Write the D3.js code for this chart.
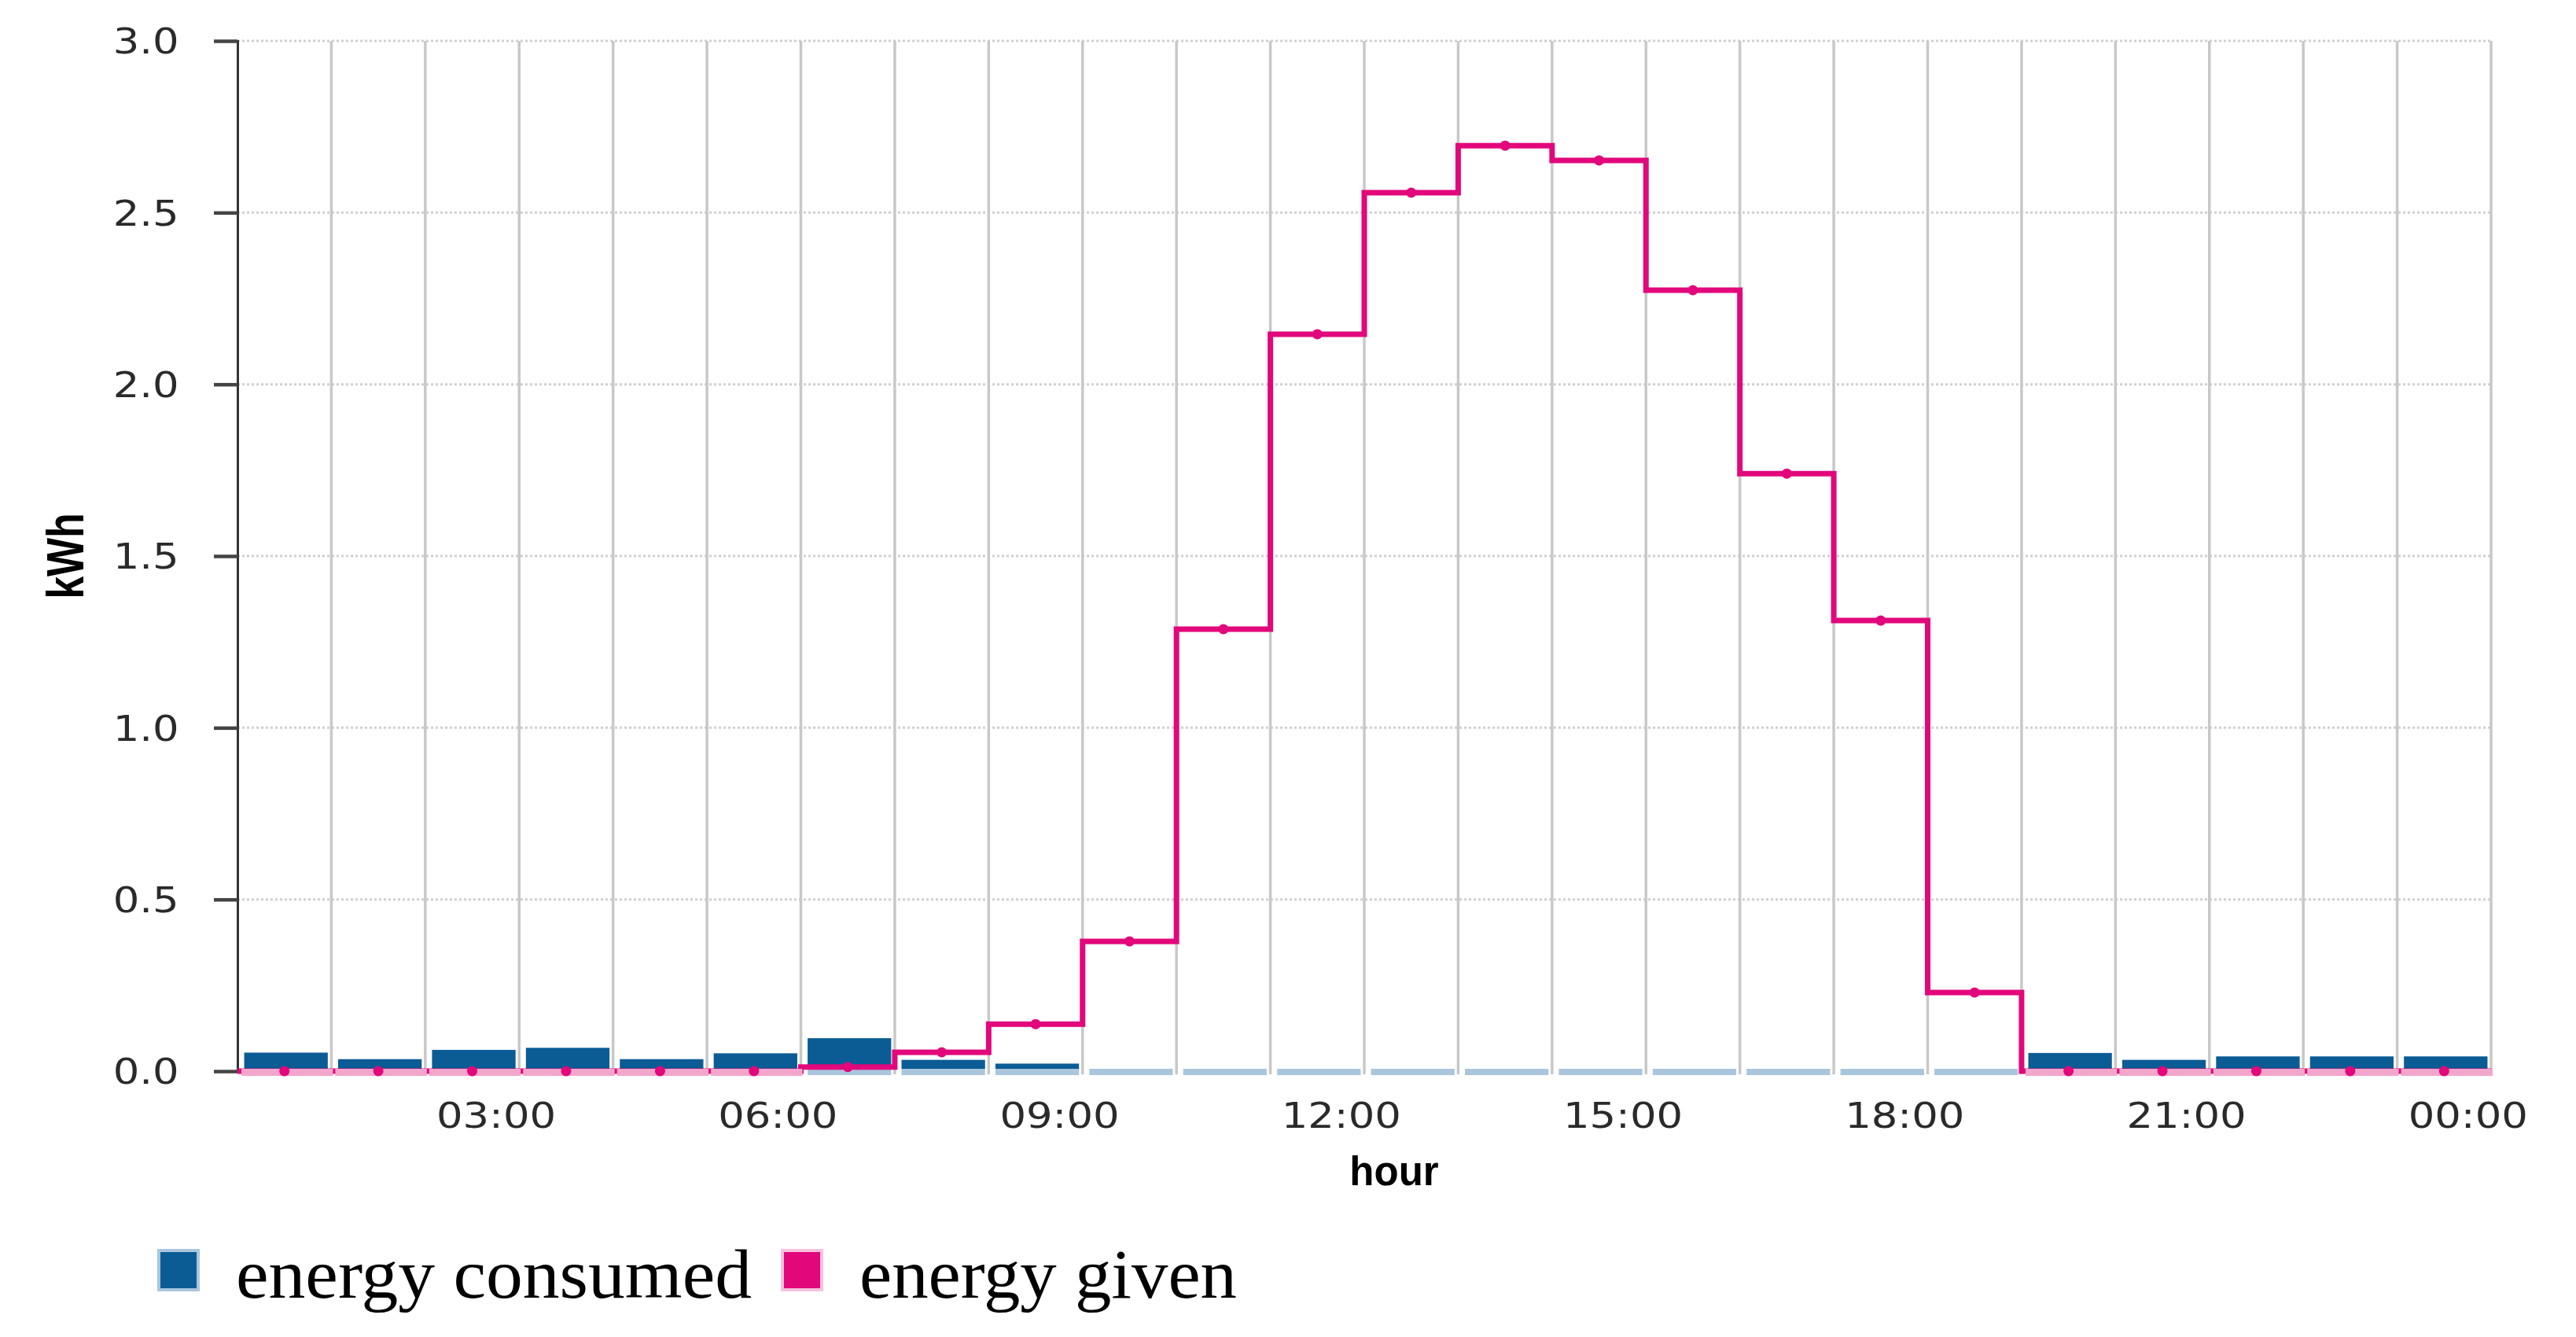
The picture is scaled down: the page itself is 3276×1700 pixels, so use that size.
<!DOCTYPE html>
<html>
<head>
<meta charset="utf-8">
<script src="https://cdn.jsdelivr.net/npm/d3@7"></script>
<style>
  body { margin: 0; background: #fff; }
</style>
</head>
<body>
<div id="my_dataviz"></div>
<script>
// hourly data, interval i = i:00 .. i+1:00
const hours = d3.range(24)
const consumed = [0.054, 0.035, 0.062, 0.068, 0.035, 0.052, 0.096, 0.033, 0.022,
                  0, 0, 0, 0, 0, 0, 0, 0, 0, 0,
                  0.053, 0.033, 0.043, 0.043, 0.043]
const given = [0, 0, 0, 0, 0, 0, 0.012, 0.055, 0.137, 0.378, 1.287, 2.146,
               2.558, 2.695, 2.652, 2.274, 1.740, 1.312, 0.229, 0, 0, 0, 0, 0]
const yTicks = [0, 0.5, 1.0, 1.5, 2.0, 2.5, 3.0]
const xTicks = [3, 6, 9, 12, 15, 18, 21, 24]
const xTickLabels = ["03:00", "06:00", "09:00", "12:00", "15:00", "18:00", "21:00", "00:00"]
const legendLabels = ["energy consumed", "energy given"]

const W = 3276, H = 1700
const blue = "#0b5c95", lightBlue = "#a9c6dc"
const pink = "#e2077b", lightPink = "#f3a6cc"

const svg = d3.select("#my_dataviz")
    .append("svg")
    .attr("width", W)
    .attr("height", H)
    .style("background", "#fff")

const x = d3.scaleLinear().domain([0, 24]).range([302, 3168])
const y = d3.scaleLinear().domain([0, 3]).range([1362, 52])
const step = x(1) - x(0)

// horizontal dotted grid
svg.append("g")
  .selectAll("line")
  .data(yTicks.filter(d => d > 0))
  .join("line")
    .attr("x1", x(0)).attr("x2", x(24))
    .attr("y1", d => y(d)).attr("y2", d => y(d))
    .attr("stroke", "#cfcfcf")
    .attr("stroke-width", 3)
    .attr("stroke-dasharray", "3,3")

// vertical grid, one per hour
svg.append("g")
  .selectAll("line")
  .data(d3.range(1, 25))
  .join("line")
    .attr("x1", d => x(d)).attr("x2", d => x(d))
    .attr("y1", y(3)).attr("y2", y(0) + 4)
    .attr("stroke", "#c8c8c8")
    .attr("stroke-width", 3.5)

// y axis
const yAxis = svg.append("g")
    .attr("transform", `translate(${x(0)},0)`)
    .call(d3.axisLeft(y).tickValues(yTicks).tickSize(30).tickPadding(32).tickFormat(d3.format(".1f")))
yAxis.select(".domain").attr("stroke", "#333").attr("stroke-width", 3)
yAxis.selectAll(".tick line").attr("stroke", "#444").attr("stroke-width", 4.5)
yAxis.selectAll(".tick text")
    .attr("fill", "#2a2a2a")
    .style("font-family", "'DejaVu Sans', Verdana, sans-serif")
    .style("font-size", "44px")
    .attr("dy", "0.36em")
    .attr("transform", "translate(-240,0) scale(1.2,1) translate(200,0)")

// x axis labels (no line)
const xAxis = svg.append("g")
    .attr("transform", `translate(0,${y(0)})`)
    .call(d3.axisBottom(x).tickValues(xTicks).tickSize(0).tickPadding(40)
          .tickFormat((d, i) => xTickLabels[i]))
xAxis.select(".domain").remove()
xAxis.selectAll(".tick")
    .attr("transform", d => `translate(${x(d) - step * 0.245},0)`)
xAxis.selectAll(".tick text")
    .attr("fill", "#2a2a2a")
    .style("font-family", "'DejaVu Sans', Verdana, sans-serif")
    .style("font-size", "44px")
    .attr("dy", "0.72em")
    .attr("transform", "scale(1.2,1)")

// axis titles
svg.append("text")
    .attr("transform", `translate(82,${(y(0) + y(3)) / 2}) scale(1.27,1) rotate(-90)`)
    .attr("text-anchor", "middle")
    .attr("dy", "0.36em")
    .style("font-family", "'Liberation Sans', Arial, sans-serif")
    .style("font-weight", "bold")
    .style("font-size", "52px")
    .text("kWh")

svg.append("text")
    .attr("x", 1773).attr("y", 1507)
    .attr("text-anchor", "middle")
    .style("font-family", "'Liberation Sans', Arial, sans-serif")
    .style("font-weight", "bold")
    .style("font-size", "51px")
    .text("hour")

// consumed bars
const barW = step * 0.89
svg.append("g")
  .selectAll("rect")
  .data(hours)
  .join("rect")
    .attr("x", d => x(d + 0.5) - barW / 2 + 2)
    .attr("width", barW)
    .attr("y", d => y(consumed[d]))
    .attr("height", d => Math.max(0, y(0) - 3 - y(consumed[d])))
    .attr("fill", blue)

// light bottom band of each bar
svg.append("g")
  .selectAll("rect")
  .data(hours)
  .join("rect")
    .attr("x", d => x(d + 0.5) - barW / 2 + 2)
    .attr("width", barW)
    .attr("y", y(0) - 3)
    .attr("height", 8)
    .attr("fill", lightBlue)

// given: step line
const pts = hours.map(d => [d, given[d]]).concat([[24, given[23]]])
svg.append("path")
    .datum(pts)
    .attr("fill", "none")
    .attr("stroke", pink)
    .attr("stroke-width", 7)
    .attr("d", d3.line().x(d => x(d[0])).y(d => y(d[1])).curve(d3.curveStepAfter))

// zero stretches of the line look pale
svg.append("g")
  .selectAll("rect")
  .data(hours.filter(d => given[d] === 0))
  .join("rect")
    .attr("x", d => x(d) + 5)
    .attr("width", step - 3)
    .attr("y", y(0) - 3)
    .attr("height", 9)
    .attr("fill", lightPink)

svg.append("g")
  .selectAll("circle")
  .data(hours)
  .join("circle")
    .attr("cx", d => x(d + 0.5))
    .attr("cy", d => y(given[d]))
    .attr("r", 6.5)
    .attr("fill", pink)

// legend
const legend = svg.append("g")
const legendX = [200, 993]
const legendW = [656, 480]
const legendColors = [blue, pink]
const legendEdge = [lightBlue, "#f7c3dc"]
legend.selectAll("rect")
  .data(legendLabels)
  .join("rect")
    .attr("x", (d, i) => legendX[i] + 2)
    .attr("y", 1590)
    .attr("width", 50)
    .attr("height", 50)
    .attr("fill", (d, i) => legendColors[i])
    .attr("stroke", (d, i) => legendEdge[i])
    .attr("stroke-width", 4)
legend.selectAll("text")
  .data(legendLabels)
  .join("text")
    .attr("x", (d, i) => legendX[i] + 100)
    .attr("y", 1650)
    .attr("textLength", (d, i) => legendW[i])
    .attr("lengthAdjust", "spacingAndGlyphs")
    .style("font-family", "'Liberation Serif', 'Times New Roman', serif")
    .style("font-size", "88px")
    .attr("fill", "#000")
    .text(d => d)
</script>
</body>
</html>
